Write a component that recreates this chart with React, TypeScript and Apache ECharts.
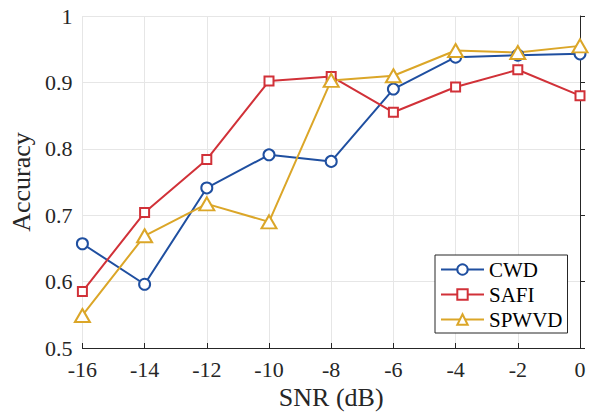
import React, { useEffect, useRef } from "react";
import * as echarts from "echarts";

const snr = [-16, -14, -12, -10, -8, -6, -4, -2, 0];
const cwd = [0.657, 0.596, 0.741, 0.791, 0.781, 0.890, 0.938, 0.941, 0.943];
const safi = [0.585, 0.704, 0.784, 0.902, 0.909, 0.855, 0.893, 0.919, 0.880];
const spwvd = [0.549, 0.669, 0.717, 0.690, 0.903, 0.910, 0.948, 0.945, 0.955];

const FONT = "Liberation Serif";
const TXT = "#262626";

export default function App() {
  const ref = useRef<HTMLDivElement>(null);
  useEffect(() => {
    const chart = echarts.init(ref.current!, undefined, { renderer: "svg" });
    const mk = (name: string, vals: number[], color: string, symbol: string, size: any) => ({
      name,
      type: "line",
      data: snr.map((x, i) => [x, vals[i]]),
      symbol,
      symbolSize: size,
      showAllSymbol: true,
      lineStyle: { color, width: 2 },
      itemStyle: { color: "#ffffff", borderColor: color, borderWidth: 2 },
      color,
    });
    chart.setOption({
      animation: false,
      backgroundColor: "#ffffff",
      textStyle: { fontFamily: FONT },
      grid: { left: 81, right: 31, top: 16, bottom: 68, containLabel: false },
      legend: {
        orient: "vertical",
        left: 435,
        top: 255,
        padding: [4, 5, 3, 5],
        itemGap: 4,
        itemWidth: 43,
        itemHeight: 13,
        borderColor: "#262626",
        borderWidth: 1,
        borderRadius: 0,
        backgroundColor: "#ffffff",
        textStyle: { fontFamily: FONT, fontSize: 21, color: "#000" },
        data: ["CWD", "SAFI", "SPWVD"],
      },
      xAxis: {
        type: "value",
        min: -16,
        max: 0,
        interval: 2,
        name: "SNR (dB)",
        nameLocation: "middle",
        nameGap: 35,
        nameTextStyle: { fontFamily: FONT, fontSize: 26, color: TXT },
        axisLine: { show: true, onZero: false, lineStyle: { color: "#262626", width: 1 } },
        axisTick: { show: true, inside: true, length: 5, lineStyle: { color: "#262626" } },
        axisLabel: { fontFamily: FONT, fontSize: 22, color: TXT, margin: 10 },
        splitLine: { show: true, lineStyle: { color: "#e6e6e6", width: 1 } },
      },
      yAxis: {
        type: "value",
        min: 0.5,
        max: 1,
        interval: 0.1,
        name: "Accuracy",
        nameLocation: "middle",
        nameGap: 43,
        nameTextStyle: { fontFamily: FONT, fontSize: 26, color: TXT },
        axisLine: { show: true, lineStyle: { color: "#262626", width: 1 } },
        axisTick: { show: true, inside: true, length: 5, lineStyle: { color: "#262626" } },
        axisLabel: { fontFamily: FONT, fontSize: 22, color: TXT, margin: 10 },
        splitLine: { show: true, lineStyle: { color: "#e6e6e6", width: 1 } },
      },
      series: [
        mk("CWD", cwd, "#1f4fa0", "circle", 11),
        mk("SAFI", safi, "#d13138", "rect", 9),
        mk("SPWVD", spwvd, "#dba628", "triangle", [15, 13]),
      ],
    });
    return () => chart.dispose();
  }, []);
  return (
    <div
      ref={ref}
      style={{ position: "absolute", left: 0, top: 0, width: 611, height: 416 }}
    />
  );
}
